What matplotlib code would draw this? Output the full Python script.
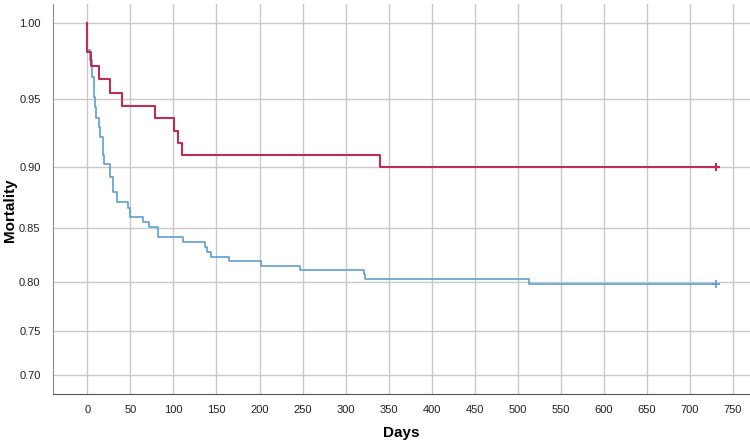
import numpy as np
import matplotlib
matplotlib.use("Agg")
import matplotlib.pyplot as plt

# Kaplan-Meier curves (day, value after the step)
dias_rojo = [0, 0, 4, 13, 26, 40, 78, 101, 105, 110, 340, 730]
val_rojo = [1.0, 0.9818, 0.9727, 0.9636, 0.9545, 0.9455, 0.9364, 0.9273,
            0.9182, 0.9091, 0.9000, 0.9000]

dias_azul = [0, 0, 3.5, 5.5, 7.4, 8.6, 10.1, 13.3, 15.1, 17.9, 18.6, 19.5,
             26.4, 30.2, 34.2, 47.7, 49.7, 65.1, 72.1, 82.6, 110.5, 136.9,
             139.5, 143.8, 165.1, 202, 247.3, 320.9, 322.9, 512.8, 730]
val_azul = [1.0, 0.983, 0.9765, 0.9654, 0.9517, 0.9447, 0.9367, 0.9304,
            0.9230, 0.9131, 0.9093, 0.9025, 0.8924, 0.8804, 0.8723, 0.8668,
            0.8591, 0.8549, 0.8505, 0.8418, 0.8373, 0.8328, 0.8289, 0.8243,
            0.8203, 0.8160, 0.8119, 0.8079, 0.8031, 0.7988, 0.7988]

xticks = list(range(0, 751, 50))
yticks = [0.70, 0.75, 0.80, 0.85, 0.90, 0.95, 1.00]

color_rojo = "#bd2d56"
color_azul = "#5c9fd2"

plt.rcParams['font.family'] = ['Liberation Sans', 'DejaVu Sans']

fig = plt.figure(figsize=(7.5, 4.41), dpi=100)
ax = fig.add_axes([53/750, 47/441, 697/750, 390/441])

# the y axis in the reference is stretched near the top
k = 2.2
ax.set_yscale('function', functions=(lambda y: np.exp(k*np.asarray(y)),
                                     lambda z: np.log(np.clip(z, 1e-9, None))/k))

ax.grid(True, color="#c9c9c9", linewidth=1.0, zorder=0)
ax.set_axisbelow(True)

ax.step(dias_azul, val_azul, where='post', color=color_azul, lw=1.2, zorder=3)
ax.step(dias_rojo, val_rojo, where='post', color=color_rojo, lw=1.5, zorder=4)
ax.plot([dias_azul[-1]], [val_azul[-1]], marker='+', color=color_azul,
        markersize=6, mew=1.3, zorder=5)
ax.plot([dias_rojo[-1]], [val_rojo[-1]], marker='+', color=color_rojo,
        markersize=6, mew=1.5, zorder=5)

ax.set_xlim(-40, 770)
ax.set_ylim(0.6765, 1.0119)
ax.set_xticks(xticks)
ax.set_yticks(yticks)
ax.set_yticklabels([f"{v:.2f}" for v in yticks])
ax.tick_params(length=0, labelsize=8, colors="#222222")
ax.tick_params(axis='x', pad=8)
ax.tick_params(axis='y', pad=9)

for s in ['top', 'right']:
    ax.spines[s].set_visible(False)
ax.spines['left'].set_color("#8a8a8a")
ax.spines['bottom'].set_color("#555555")

# axis titles placed by hand, as in the reference
fig.text(401/750, 1 - 433/441, "Days", fontsize=11, fontweight='bold',
         ha='center', va='center')
fig.text(10/750, 1 - 210/441, "Mortality", fontsize=11, fontweight='bold',
         ha='center', va='center', rotation=90)

fig.savefig("out.png", dpi=100)
